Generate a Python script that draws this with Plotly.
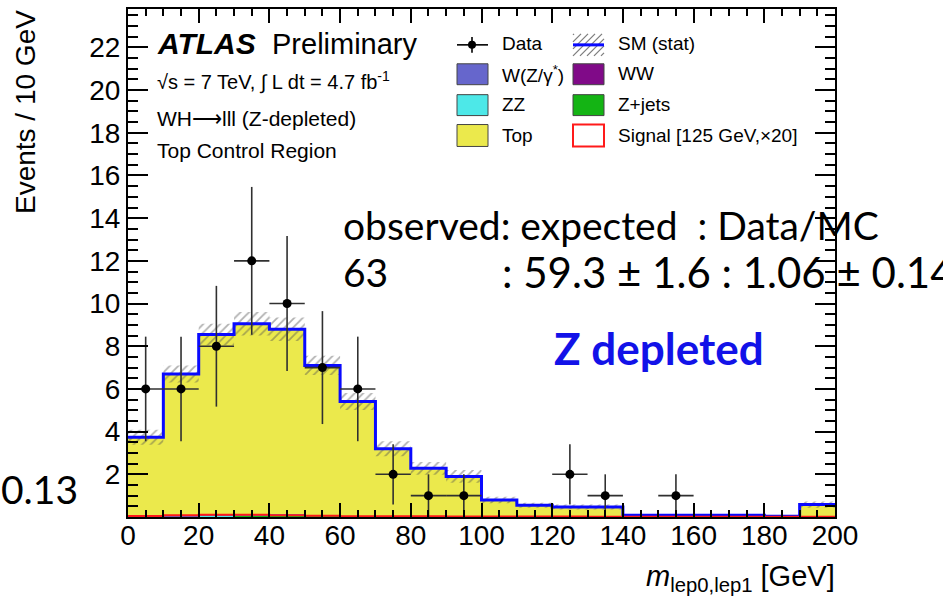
import numpy as np
import plotly.graph_objects as go

# ---- histogram content: m(lep0,lep1) in 10 GeV bins, 0-200 GeV ----
bin_edges = list(range(0, 210, 10))
data_counts = [6, 6, 8, 12, 10, 7, 6, 2, 1, 1, 0, 0, 2, 1, 0, 1, 0, 0, 0, 0]

top   = [3.70, 6.63, 8.45, 8.93, 8.67, 6.99, 5.34, 3.14, 2.23, 1.86,
         0.77, 0.52, 0.45, 0.45, 0.06, 0.06, 0.06, 0.06, 0.02, 0.56]
wz    = [0.03, 0.04, 0.05, 0.06, 0.06, 0.05, 0.03, 0.03, 0.02, 0.02,
         0.01, 0.01, 0.01, 0.01, 0.01, 0.01, 0.01, 0.01, 0.00, 0.01]
zz    = [0.00, 0.01, 0.01, 0.01, 0.01, 0.01, 0.01, 0.00, 0.00, 0.00,
         0.00, 0.00, 0.00, 0.00, 0.00, 0.00, 0.00, 0.00, 0.00, 0.00]
zjets = [0.00, 0.00, 0.02, 0.03, 0.04, 0.03, 0.02, 0.02, 0.02, 0.01,
         0.01, 0.01, 0.00, 0.00, 0.00, 0.00, 0.00, 0.00, 0.00, 0.00]
ww    = [0.01, 0.02, 0.02, 0.02, 0.02, 0.02, 0.01, 0.01, 0.01, 0.01,
         0.01, 0.01, 0.01, 0.01, 0.01, 0.01, 0.01, 0.01, 0.01, 0.01]
signal_x20 = [0.05, 0.08, 0.10, 0.10, 0.08, 0.06, 0.04, 0.03, 0.03, 0.02,
              0.02, 0.02, 0.02, 0.01, 0.01, 0.01, 0.01, 0.01, 0.01, 0.01]
sm_stat_err = [0.35, 0.40, 0.50, 0.55, 0.55, 0.45, 0.40, 0.35, 0.30, 0.30,
               0.15, 0.12, 0.12, 0.12, 0.05, 0.05, 0.05, 0.05, 0.02, 0.15]

y_ticks = [2, 4, 6, 8, 10, 12, 14, 16, 18, 20, 22]
x_ticks = [0, 20, 40, 60, 80, 100, 120, 140, 160, 180, 200]

COL_TOP = "#ebe94c"
COL_WZ = "#6666cc"
COL_ZZ = "#4de8e8"
COL_ZJ = "#14b414"
COL_WW = "#800a88"
COL_SM = "#0a0aff"

edges = np.array(bin_edges, dtype=float)
centers = 0.5 * (edges[:-1] + edges[1:])
widths = np.diff(edges)
components = [("WW", ww, COL_WW), ("Z+jets", zjets, COL_ZJ), ("ZZ", zz, COL_ZZ),
              ("W(Z/gamma*)", wz, COL_WZ), ("Top", top, COL_TOP)]
total = np.sum([np.array(c[1]) for c in components], axis=0)
err = np.array(sm_stat_err)

# ---- canvas geometry (pixels) ----
W, H = 943, 604
ML, MR, MT, MB = 128, 108, 7, 87
PW, PH = W - ML - MR, H - MT - MB


def px(x):
    return (x - ML) / PW


def py(y):
    return (H - MB - y) / PH


fig = go.Figure()

# stacked backgrounds
for name, vals, col in components:
    fig.add_trace(go.Bar(x=centers, y=vals, width=widths, name=name,
                         marker=dict(color=col, line=dict(width=0)),
                         showlegend=False, hoverinfo="skip"))

# statistical band of the SM sum (hatched)
bx, by_up, by_lo = [], [], []
for i in range(len(centers)):
    bx += [edges[i], edges[i + 1]]
    by_up += [total[i] + err[i]] * 2
    by_lo += [max(total[i] - err[i], 0)] * 2
fig.add_trace(go.Scatter(
    x=bx + bx[::-1], y=by_up + by_lo[::-1], mode="lines", fill="toself",
    fillcolor="rgba(0,0,0,0)", line=dict(width=0),
    fillpattern=dict(shape="/", fgcolor="rgba(80,80,80,0.9)",
                     bgcolor="rgba(0,0,0,0)", size=6, solidity=0.3),
    showlegend=False, hoverinfo="skip"))

# SM total outline
fig.add_trace(go.Scatter(x=edges, y=list(total) + [total[-1]], mode="lines",
                         line=dict(color=COL_SM, width=3, shape="hv"),
                         showlegend=False, hoverinfo="skip"))

# signal (x20) outline
fig.add_trace(go.Scatter(x=edges, y=signal_x20 + [signal_x20[-1]], mode="lines",
                         line=dict(color="#ff1a1a", width=2, shape="hv"),
                         showlegend=False, hoverinfo="skip"))

# data points with sqrt(N) errors, empty bins not drawn
dc = np.array(data_counts, dtype=float)
mask = dc > 0
fig.add_trace(go.Scatter(
    x=centers[mask], y=dc[mask], mode="markers",
    marker=dict(color="black", size=9),
    error_y=dict(type="data", array=np.sqrt(dc[mask]), width=0, thickness=1.6,
                 color="#303030"),
    error_x=dict(type="data", array=widths[mask] / 2, width=0, thickness=1.6,
                 color="#303030"),
    showlegend=False, hoverinfo="skip"))

AX_FONT = dict(family="Liberation Sans, Arial, sans-serif", size=28, color="black")

fig.update_layout(
    width=W, height=H, margin=dict(l=ML, r=MR, t=MT, b=MB),
    paper_bgcolor="white", plot_bgcolor="white",
    barmode="stack", bargap=0, showlegend=False,
    xaxis=dict(range=[0, 200], tickmode="array", tickvals=x_ticks,
               ticktext=[str(v) for v in x_ticks],
               ticks="inside", ticklen=14, tickwidth=1.5, tickcolor="black",
               minor=dict(tickmode="linear", tick0=0, dtick=5, ticks="inside",
                          ticklen=7, tickwidth=1.5, tickcolor="black"),
               showline=True, linecolor="black", linewidth=2, mirror="ticks",
               showgrid=False, zeroline=False, tickfont=AX_FONT,
               ticklabelstandoff=-8),
    yaxis=dict(range=[0, 23.8], tickmode="array", tickvals=y_ticks,
               ticktext=[str(v) for v in y_ticks],
               ticks="inside", ticklen=20, tickwidth=1.5, tickcolor="black",
               minor=dict(tickmode="linear", tick0=0, dtick=0.5, ticks="inside",
                          ticklen=10, tickwidth=1.5, tickcolor="black"),
               showline=True, linecolor="black", linewidth=2, mirror="ticks",
               showgrid=False, zeroline=False, tickfont=AX_FONT),
)

ann = []
shapes = []
HELV = "Liberation Sans, Arial, sans-serif"
SLIDE = "Lato, Noto Sans, sans-serif"


def text(x, y, s, size, family=HELV, color="black", xanchor="left",
         yanchor="middle", angle=0):
    ann.append(dict(x=px(x), y=py(y), xref="paper", yref="paper", text=s,
                    showarrow=False, xanchor=xanchor, yanchor=yanchor,
                    textangle=angle,
                    font=dict(family=family, size=size, color=color)))


# axis titles
text(25, 6, "Events / 10 GeV", 28, xanchor="center", yanchor="top", angle=-90)
text(837, 578, "<i>m</i><sub>lep0,lep1</sub> [GeV]", 29, xanchor="right")

# ATLAS labels
text(155, 42, "<b><i>ATLAS</i></b>", 30)
text(270, 42, "Preliminary", 29)
text(155, 79, "√s = 7 TeV, ∫ L dt = 4.7 fb<sup>-1</sup>", 20)
text(155, 117, "WH⟶lll (Z-depleted)", 21)
text(155, 149, "Top Control Region", 21)

# legend
LEG = 19


def box(x0, y0, x1, y1, fill, line="#444444", lw=1):
    shapes.append(dict(type="rect", xref="paper", yref="paper",
                       x0=px(x0), x1=px(x1), y0=py(y1), y1=py(y0),
                       fillcolor=fill, line=dict(color=line, width=lw)))


def seg(x0, y0, x1, y1, color, lw):
    shapes.append(dict(type="line", xref="paper", yref="paper",
                       x0=px(x0), x1=px(x1), y0=py(y0), y1=py(y1),
                       line=dict(color=color, width=lw)))


# Data entry
seg(457, 43, 488, 43, "black", 1.6)
seg(472, 35, 472, 51, "black", 1.6)
shapes.append(dict(type="circle", xref="paper", yref="paper",
                   x0=px(468), x1=px(476), y0=py(47), y1=py(39),
                   fillcolor="black", line=dict(color="black", width=0)))
text(500, 42, "Data", LEG)

# SM (stat) entry: hatch + blue line
hx0, hx1, hy0, hy1 = 573, 604, 32, 54
for k in range(-3, 5):
    xa = hx0 + 7 * k
    x_start, y_start = xa, hy1
    x_end, y_end = xa + (hy1 - hy0), hy0
    if x_start < hx0:
        y_start -= (hx0 - x_start)
        x_start = hx0
    if x_end > hx1:
        y_end += (x_end - hx1)
        x_end = hx1
    if x_end > x_start:
        seg(x_start, y_start, x_end, y_end, "rgba(100,100,100,0.85)", 1.2)
seg(573, 43, 604, 43, COL_SM, 3)
text(616, 42, "SM (stat)", LEG)

box(457, 62, 488, 83, COL_WZ)
text(500, 72, "W(Z/γ<sup>*</sup>)", LEG)
box(573, 62, 604, 83, COL_WW)
text(616, 72, "WW", LEG)
box(457, 93, 488, 114, COL_ZZ)
text(500, 103, "ZZ", LEG)
box(573, 93, 604, 114, COL_ZJ)
text(616, 103, "Z+jets", LEG)
box(457, 123, 488, 145, COL_TOP)
text(500, 134, "Top", LEG)
box(573, 123, 604, 145, "white", line="#ff1a1a", lw=2)
text(616, 134, "Signal [125 GeV,×20]", LEG)

# yield summary
text(341, 224, "observed: expected&nbsp;&nbsp;: Data/MC", 39, family=SLIDE)
text(341, 271, "63", 39, family=SLIDE)
text(500, 271, ": 59.3 ± 1.6 : 1.06 ± 0.14", 42, family=SLIDE)
text(659, 347, "<b>Z depleted</b>", 44, family=SLIDE, color="#1212e8",
     xanchor="center")
text(-1, 489, "0.13", 39, family=SLIDE)

fig.update_layout(annotations=ann, shapes=shapes)
fig.write_html("out.html")
